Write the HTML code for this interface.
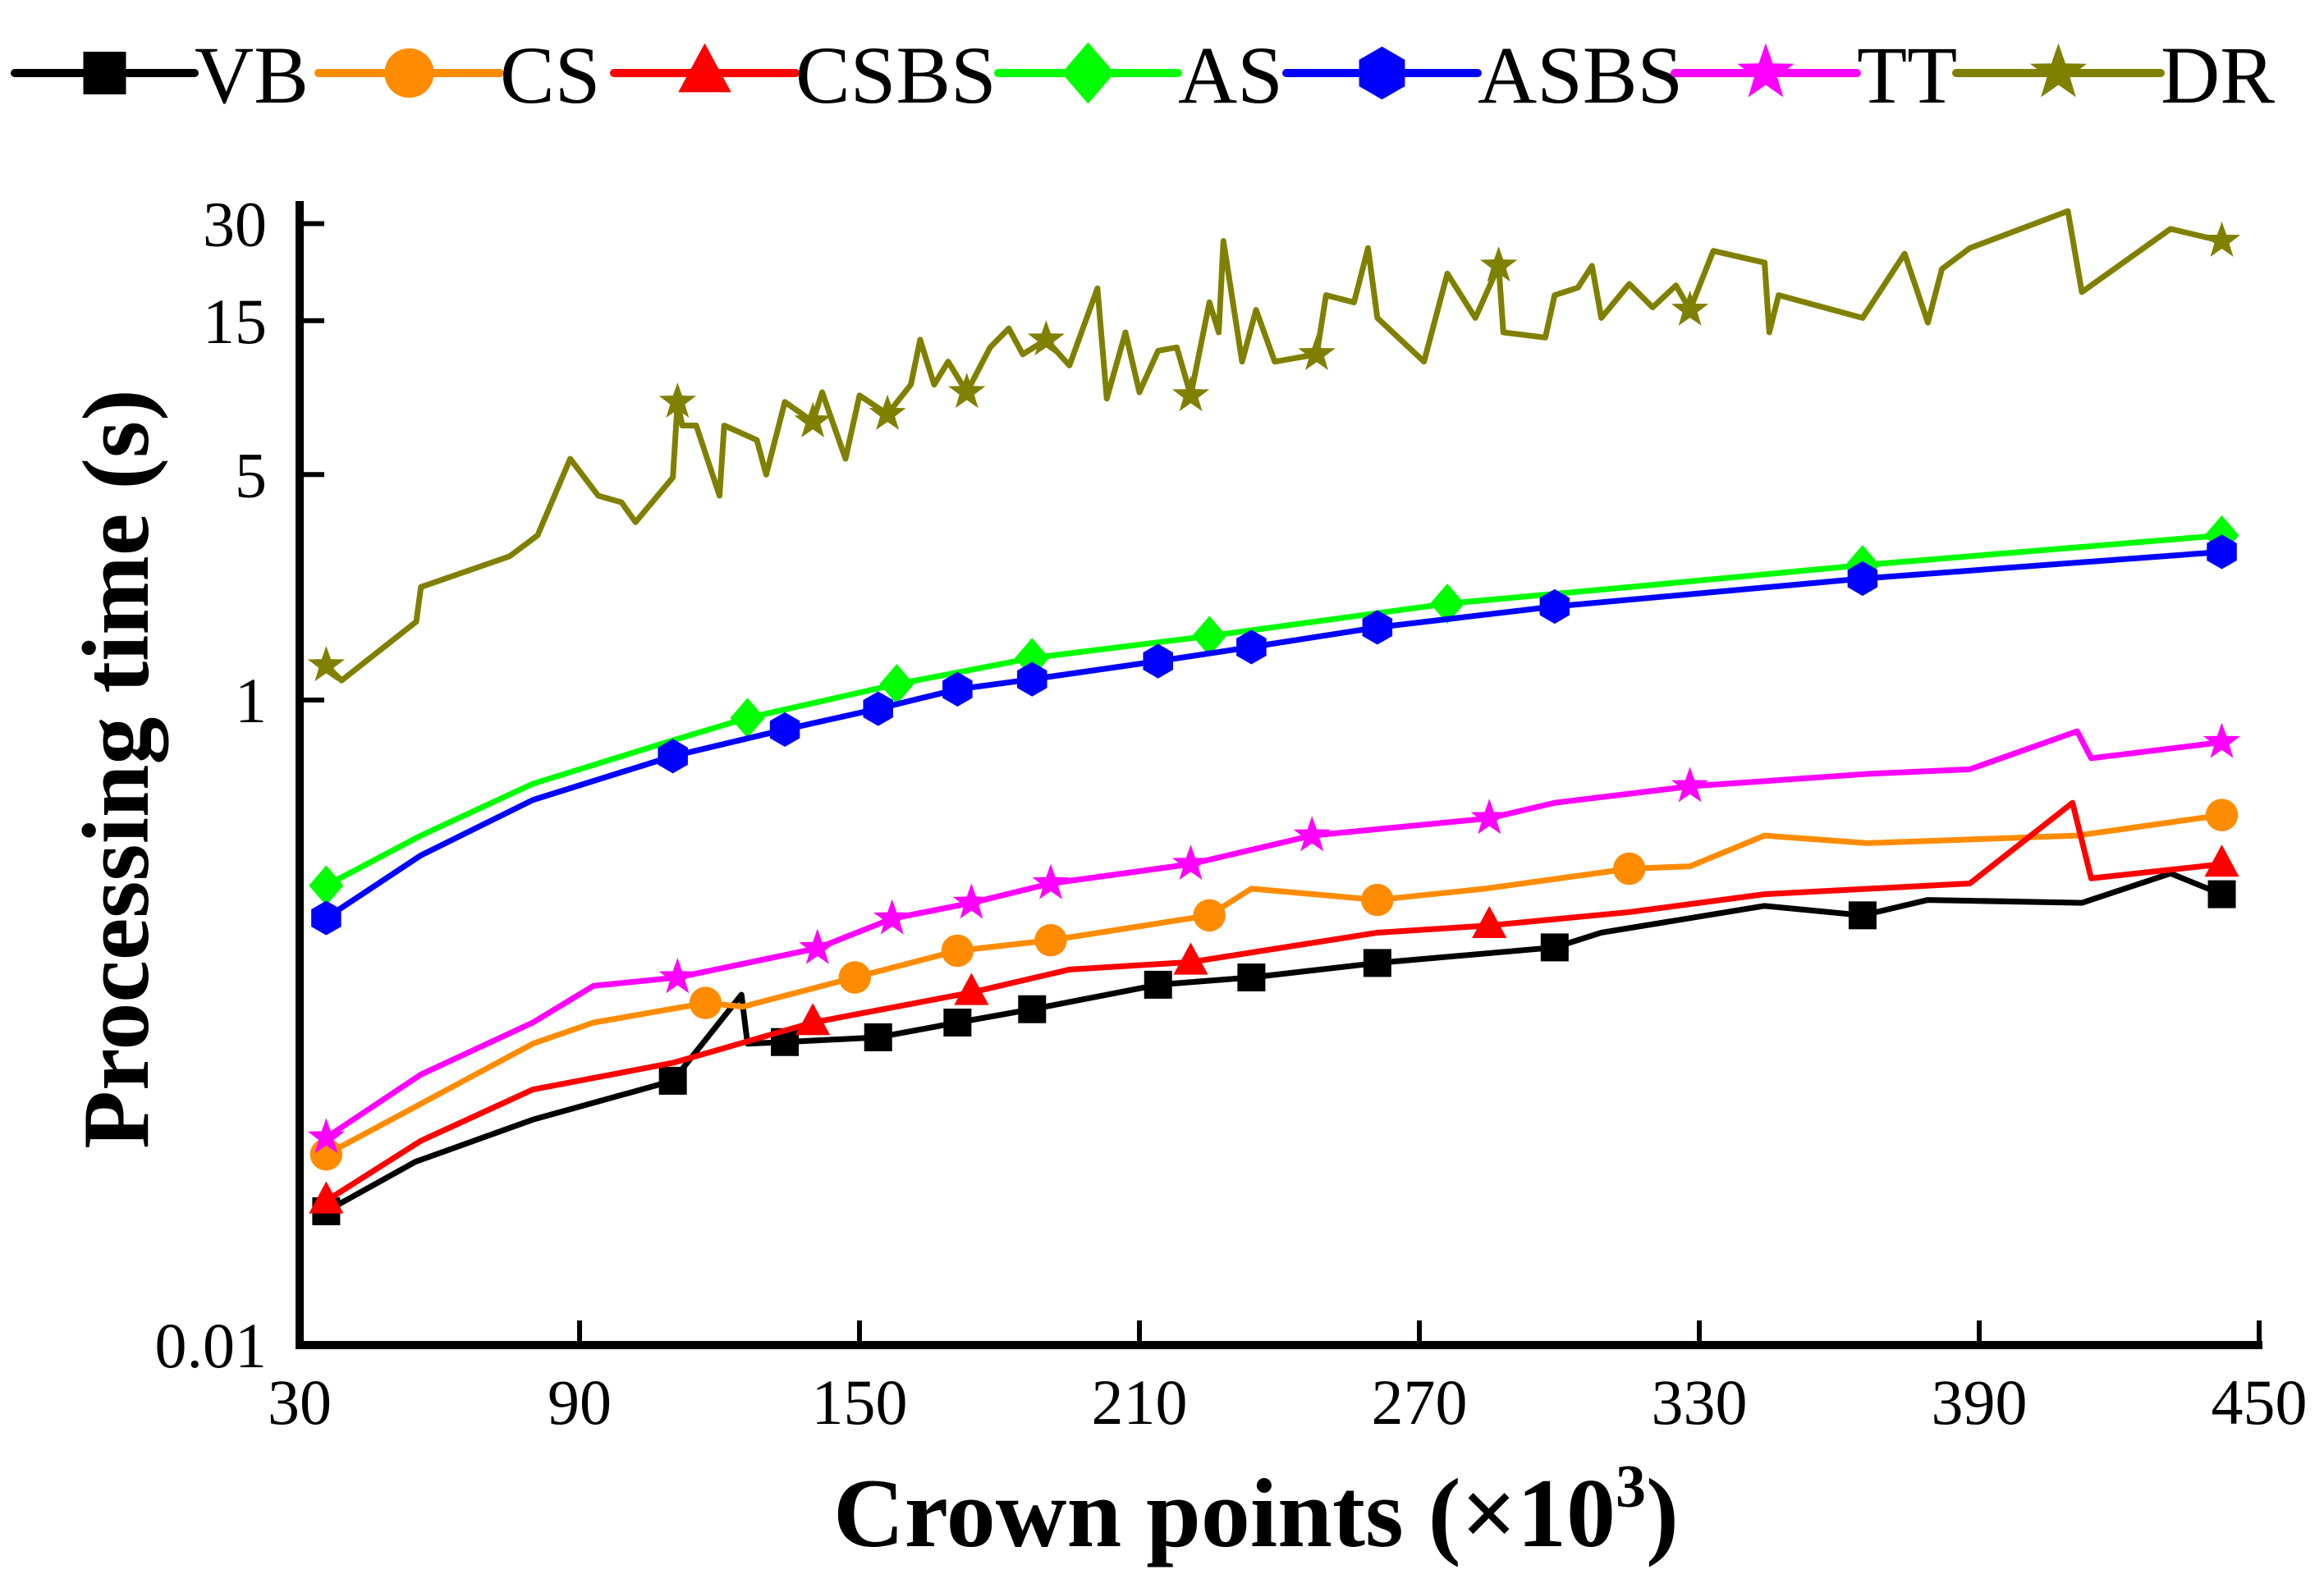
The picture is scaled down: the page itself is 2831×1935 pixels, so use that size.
<!DOCTYPE html>
<html><head><meta charset="utf-8"><style>
html,body{margin:0;padding:0;background:#fff;}
svg{display:block;}
text{font-family:"Liberation Serif",serif;}
</style></head><body>
<svg id="chart" width="2831" height="1935" viewBox="0 0 2831 1935" xmlns="http://www.w3.org/2000/svg">
<g id="legend"></g>
<g id="axes"></g>
<g id="series"></g>
<text x="180" y="937" transform="rotate(-90 180 937)" text-anchor="middle" font-size="116" font-weight="bold">Processing time (s)</text>
<text x="1530" y="1884" text-anchor="middle" font-size="120" font-weight="bold">Crown points (×10<tspan dy="-48" font-size="74">3</tspan><tspan dy="48">)</tspan></text>
</svg>
<script>
const xTicks=[30,90,150,210,270,330,390,450];
const yTicks=[0.01,1,5,15,30];
const yTickLabels=["0.01","1","5","15","30"];
const seriesNames=["VB","CS","CSBS","AS","ASBS","TT","DR"];
const vbX=[35.7,54.8,80,110,124.7,126,134,154,171,187,214,234,261,299,309,344,365,379,412,431,442];
const vbY=[0.026,0.037,0.050,0.066,0.122,0.086,0.087,0.090,0.100,0.110,0.131,0.138,0.153,0.171,0.19,0.23,0.215,0.24,0.235,0.29,0.25];
const csX=[35.7,56,80,93,117,125,149,171,191,225,234,261,284,315,328,344,366,411,442];
const csY=[0.039,0.056,0.086,0.10,0.115,0.112,0.138,0.167,0.18,0.215,0.26,0.24,0.26,0.30,0.305,0.38,0.36,0.38,0.44];
const csbsX=[35.7,56,80,110,140,174,195,221,261,285,315,344,388,410,414,442];
const csbsY=[0.028,0.043,0.062,0.075,0.10,0.124,0.146,0.154,0.19,0.20,0.22,0.25,0.27,0.48,0.28,0.31];
const asX=[35.7,56,80,110,126,158,187,225,276,315,365,442];
const asY=[0.266,0.38,0.55,0.75,0.88,1.12,1.35,1.58,1.99,2.24,2.62,3.24];
const asbsX=[35.7,56,80,110,134,154,171,187,214,234,261,299,365,442];
const asbsY=[0.211,0.33,0.49,0.67,0.81,0.94,1.08,1.16,1.32,1.46,1.68,1.95,2.38,2.88];
const ttX=[35.7,56,80,93,111,141,157,174,191,221,247,285,299,328,366,388,411,414,442];
const ttY=[0.044,0.069,0.10,0.13,0.138,0.17,0.21,0.235,0.27,0.31,0.38,0.43,0.48,0.54,0.59,0.61,0.80,0.66,0.74];
const drX=[35.7,39,55,56,75,81,88,94,99,102,110,111,112,115,120,121,128,130,134,140,142,147,150,156,161,163,166,169,173,178,182,185,190,195,201,203,207,210,214,218,221,225,227,228,232,235,239,248,250,256,259,261,271,276,282,287,288,297,299,304,307,309,315,320,325,328,333,344,345,347,365,374,379,382,388,409,412,431,442];
const drY=[1.28,1.15,1.75,2.24,2.79,3.24,5.6,4.3,4.1,3.56,4.9,8.4,7.1,7.1,4.3,7.1,6.4,5.0,8.4,7.3,9.0,5.6,8.8,7.7,9.5,13.1,9.5,11.2,9.0,12.4,14.2,11.8,13.1,10.9,18.9,8.6,13.8,9.0,12.1,12.4,8.8,17.1,13.8,26.5,11.2,16.2,11.2,11.8,18.0,17.1,25.2,15.3,11.2,21.0,15.3,22.2,13.8,13.3,18.0,19.0,22.2,15.3,19.5,16.5,19.3,16.2,24.7,22.7,13.8,18.0,15.3,24.2,14.8,21.7,25.2,32.8,18.4,28.9,26.5];
const vbM=[35.7,110,134,154,171,187,214,234,261,299,365,442];
const csM=[35.7,117,149,171,191,225,261,315,442];
const csbsM=[35.7,140,174,221,285,442];
const asM=[35.7,126,158,187,225,276,365,442];
const asbsM=[35.7,110,134,154,171,187,214,234,261,299,365,442];
const ttM=[35.7,111,141,157,174,191,221,247,285,328,442];
const drM=[35.7,111,140,156,173,191,221,248,285,328,442];

const NS="http://www.w3.org/2000/svg";
const X0=365,X1=2752,YB=1639,DEC=393;
function sx(v){return X0+(v-30)/(450-30)*(X1-X0);}
function sy(v){return YB-(Math.log10(v)+2)*DEC;}
function mk(tag,attrs,parent){const e=document.createElementNS(NS,tag);for(const k in attrs)e.setAttribute(k,attrs[k]);parent.appendChild(e);return e;}

const axes=document.getElementById('axes');
let a=mk('line',{x1:X0,y1:245,x2:X0,y2:YB+4,stroke:'#000','stroke-width':10},axes);


a=mk('line',{x1:X0-5,y1:YB,x2:X1+4,y2:YB,stroke:'#000','stroke-width':10},axes);


xTicks.forEach(t=>{
  const l=mk('line',{x1:sx(t),y1:YB,x2:sx(t),y2:YB-30,stroke:'#000','stroke-width':6},axes);
  
  
  const tx=mk('text',{x:sx(t),y:1735,'text-anchor':'middle','font-size':78},axes);
  tx.textContent=t;
  
  
});
yTicks.forEach((t,i)=>{
  if(t>0.01){
    const l=mk('line',{x1:X0,y1:sy(t),x2:X0+30,y2:sy(t),stroke:'#000','stroke-width':6},axes);
    
    
  }
  const tx=mk('text',{x:325,y:sy(t)+27,'text-anchor':'end','font-size':78},axes);
  tx.textContent=yTickLabels[i];
  
  
});

function marker(type,cx,cy,color,s,parent){
  let e;
  if(type==='square')e=mk('rect',{x:cx-s/2,y:cy-s/2,width:s,height:s,fill:color},parent);
  else if(type==='circle')e=mk('circle',{cx:cx,cy:cy,r:s*0.58,fill:color},parent);
  else if(type==='triangle')e=mk('polygon',{points:`${cx},${cy-s*0.7} ${cx+s*0.62},${cy+s*0.45} ${cx-s*0.62},${cy+s*0.45}`,fill:color},parent);
  else if(type==='diamond')e=mk('polygon',{points:`${cx},${cy-s*0.72} ${cx+s*0.62},${cy} ${cx},${cy+s*0.72} ${cx-s*0.62},${cy}`,fill:color},parent);
  else if(type==='hexagon'){let p=[];for(let k=0;k<6;k++){const an=Math.PI/6+k*Math.PI/3;p.push((cx+s*0.62*Math.cos(an))+','+(cy+s*0.62*Math.sin(an)));}e=mk('polygon',{points:p.join(' '),fill:color},parent);}
  else {let p=[];for(let k=0;k<10;k++){const r=k%2?s*0.28:s*0.7;const an=-Math.PI/2+k*Math.PI/5;p.push((cx+r*Math.cos(an))+','+(cy+r*Math.sin(an)));}e=mk('polygon',{points:p.join(' '),fill:color},parent);}
  return e;
}
const defs=[
 {name:'VB',color:'#000000',type:'square',xs:vbX,ys:vbY,m:vbM,lx:18,tx:237},
 {name:'CS',color:'#ff8c00',type:'circle',xs:csX,ys:csY,m:csM,lx:388,tx:609},
 {name:'CSBS',color:'#ff0000',type:'triangle',xs:csbsX,ys:csbsY,m:csbsM,lx:748,tx:969},
 {name:'AS',color:'#00ff00',type:'diamond',xs:asX,ys:asY,m:asM,lx:1216,tx:1435},
 {name:'ASBS',color:'#0000ff',type:'hexagon',xs:asbsX,ys:asbsY,m:asbsM,lx:1567,tx:1800},
 {name:'TT',color:'#ff00ff',type:'star',xs:ttX,ys:ttY,m:ttM,lx:2040,tx:2262},
 {name:'DR',color:'#808000',type:'star',xs:drX,ys:drY,m:drM,lx:2383,tx:2632}
];
const sg=document.getElementById('series');
const lg=document.getElementById('legend');
defs.forEach(d=>{
  const g=mk('g',{},sg);
  
  
  const pts=d.xs.map((x,i)=>sx(x)+','+sy(d.ys[i])).join(' ');
  const pl=mk('polyline',{points:pts,fill:'none',stroke:d.color,'stroke-width':7,'stroke-linejoin':'round'},g);
  
  
  d.m.forEach(mx=>{
    let bi=0,bd=1e9;d.xs.forEach((x,i)=>{if(Math.abs(x-mx)<bd){bd=Math.abs(x-mx);bi=i;}});
    const e=marker(d.type,sx(d.xs[bi]),sy(d.ys[bi]),d.color,34,g);
    
    
  });
  const lgi=mk('g',{},lg);
  
  
  mk('line',{x1:d.lx,y1:89,x2:d.tx,y2:89,stroke:d.color,'stroke-width':10,'stroke-linecap':'round'},lgi);
  marker(d.type,(d.lx+d.tx)/2,89,d.color,52,lgi);
  const t=mk('text',{x:d.tx,y:125,'font-size':100},lgi);
  t.textContent=d.name;
});
</script>
</body></html>
